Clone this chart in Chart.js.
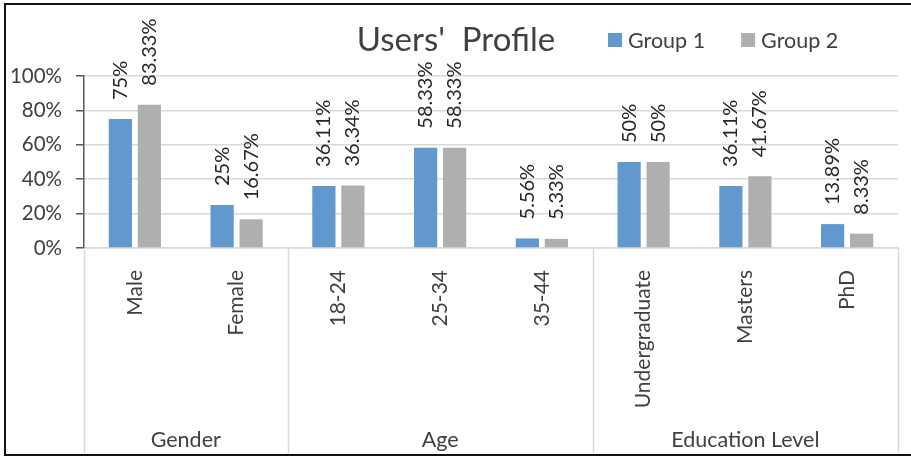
<!DOCTYPE html>
<html>
<head>
<meta charset="utf-8">
<script src="https://cdn.jsdelivr.net/npm/chart.js@4/dist/chart.umd.min.js"></script>
<style>
  html, body { margin: 0; padding: 0; background: #fff; }
  #wrap { position: relative; width: 911px; height: 456px; overflow: hidden; }
  #frame {
    position: absolute; left: 4px; top: 3px; width: 920px; height: 449px;
    border-top: 2px solid #111; border-left: 2px solid #111; border-bottom: 2px solid #111;
    pointer-events: none;
  }
</style>
</head>
<body>
<div id="wrap">
  <canvas id="chart" width="911" height="456"></canvas>
  <div id="frame"></div>
</div>
<script>
// --- Data ---
const categories = ['Male', 'Female', '18-24', '25-34', '35-44', 'Undergraduate', 'Masters', 'PhD'];
const groupNames = ['Gender', 'Age', 'Education Level'];
const groupSizes = [2, 3, 3];
const group1 = [75, 25, 36.11, 58.33, 5.56, 50, 36.11, 13.89];
const group2 = [83.33, 16.67, 36.34, 58.33, 5.33, 50, 41.67, 8.33];
const yTicks = [0, 20, 40, 60, 80, 100];

const FONT = 'Lato, "Open Sans", sans-serif';
const TEXT = '#404040';
const GRID = '#d9d9d9';

// title + legend on one row, drawn by hand
const headerPlugin = {
  id: 'header',
  afterDraw(chart) {
    const ctx = chart.ctx;
    ctx.save();
    ctx.fillStyle = TEXT;
    ctx.font = '33px ' + FONT;
    ctx.textAlign = 'center';
    ctx.textBaseline = 'alphabetic';
    ctx.fillText("Users'  Profile", 456, 51);

    ctx.font = '21.5px ' + FONT;
    ctx.textAlign = 'left';
    let x = 608;
    chart.data.datasets.forEach(ds => {
      ctx.fillStyle = ds.backgroundColor;
      ctx.fillRect(x, 33, 14, 14);
      ctx.fillStyle = TEXT;
      ctx.fillText(ds.label, x + 20, 48);
      x += 20 + ctx.measureText(ds.label).width + 36;
    });
    ctx.restore();
  }
};

// rotated value labels above bars
const valueLabels = {
  id: 'valueLabels',
  afterDatasetsDraw(chart) {
    const ctx = chart.ctx;
    ctx.save();
    ctx.font = '20px ' + FONT;
    ctx.fillStyle = '#262626';
    ctx.textAlign = 'left';
    ctx.textBaseline = 'middle';
    chart.data.datasets.forEach((ds, di) => {
      chart.getDatasetMeta(di).data.forEach((bar, i) => {
        ctx.save();
        ctx.translate(bar.x, bar.y - 19);
        ctx.rotate(-Math.PI / 2);
        ctx.fillText(ds.data[i] + '%', 0, 0);
        ctx.restore();
      });
    });
    ctx.restore();
  }
};

// second level of the category axis: separators + group names
const groupAxis = {
  id: 'groupAxis',
  afterDraw(chart) {
    const ctx = chart.ctx;
    const xs = chart.scales.x;
    const area = chart.chartArea;
    const top = area.bottom, bottom = 453;
    const edge = i => {
      if (i <= 0) return area.left;
      if (i >= categories.length) return area.right;
      return (xs.getPixelForValue(i - 1) + xs.getPixelForValue(i)) / 2;
    };
    ctx.save();
    ctx.strokeStyle = GRID;
    ctx.lineWidth = 1.5;
    ctx.fillStyle = TEXT;
    ctx.font = '21.5px ' + FONT;
    ctx.textAlign = 'center';
    let start = 0;
    const bounds = [edge(0)];
    groupSizes.forEach((n, g) => {
      const a = edge(start), b = edge(start + n);
      bounds.push(b);
      ctx.fillText(groupNames[g], (a + b) / 2, 447);
      start += n;
    });
    bounds.forEach(x => {
      ctx.beginPath();
      ctx.moveTo(Math.round(x) + 0.5, top);
      ctx.lineTo(Math.round(x) + 0.5, bottom);
      ctx.stroke();
    });
    ctx.restore();
  }
};

new Chart(document.getElementById('chart'), {
  type: 'bar',
  data: {
    labels: categories,
    datasets: [
      { label: 'Group 1', data: group1, backgroundColor: '#6199CF' },
      { label: 'Group 2', data: group2, backgroundColor: '#AFAFAF' }
    ]
  },
  options: {
    responsive: false,
    animation: false,
    devicePixelRatio: 1,
    categoryPercentage: 0.57,
    barPercentage: 0.8,
    layout: { padding: { left: 4, top: 76, right: 13, bottom: 3 } },
    plugins: {
      legend: { display: false },
      title: { display: false },
      tooltip: { enabled: false }
    },
    scales: {
      x: {
        grid: { display: false },
        border: { color: GRID, width: 1.5 },
        ticks: {
          color: TEXT,
          font: { family: FONT, size: 21 },
          minRotation: 90,
          maxRotation: 90,
          padding: 14,
          autoSkip: false
        },
        afterFit(scale) { scale.height = 205; }
      },
      y: {
        min: 0,
        max: 100,
        afterBuildTicks(scale) { scale.ticks = yTicks.map(v => ({ value: v })); },
        grid: { color: GRID, lineWidth: 1.5, tickLength: 8, tickColor: '#595959' },
        border: { color: '#595959', width: 1.5 },
        ticks: {
          color: TEXT,
          font: { family: FONT, size: 20.5 },
          padding: 14,
          callback: v => v + '%'
        },
        afterFit(scale) { scale.width = 80; }
      }
    }
  },
  plugins: [headerPlugin, valueLabels, groupAxis]
});
</script>
</body>
</html>
